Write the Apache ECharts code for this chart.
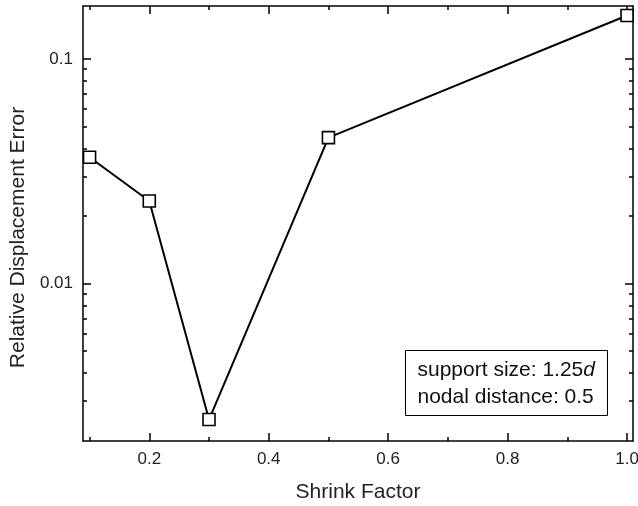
<!DOCTYPE html>
<html>
<head>
<meta charset="utf-8">
<script src="https://cdn.jsdelivr.net/npm/echarts@6/dist/echarts.min.js"></script>
<style>html,body{margin:0;padding:0;background:#fff}#c{width:638px;height:506px}</style>
</head>
<body>
<div id="c"></div>
<script>
const shrinkFactor = [0.1, 0.2, 0.3, 0.5, 1.0];
const relError = [0.0365, 0.0233, 0.00248, 0.0446, 0.156];
const xMajorTicks = [0.2, 0.4, 0.6, 0.8, 1.0];
const xMinorTicks = [0.1, 0.3, 0.5, 0.7, 0.9];
const yMajorTicks = [0.01, 0.1];
const yMinorTicks = [0.003, 0.004, 0.005, 0.006, 0.007, 0.008, 0.009,
                     0.02, 0.03, 0.04, 0.05, 0.06, 0.07, 0.08, 0.09];
const xRange = [0.089, 1.01];
const yRange = [0.00199, 0.172];

const FONT = '"Liberation Sans", Arial, sans-serif';
const ink = '#000';

function xAx(pos, ticks, len, show, labels, line) {
  return {
    type: 'value', position: pos, min: xRange[0], max: xRange[1],
    splitLine: {show: false},
    axisLine: {show: line, onZero: false, lineStyle: {color: ink, width: 1.5}},
    axisTick: {show: true, inside: true, length: len, customValues: ticks, lineStyle: {color: ink, width: 1.5}},
    axisLabel: {show: labels, customValues: ticks, margin: 10, fontFamily: FONT, fontSize: 17, color: '#222',
      formatter: v => v.toFixed(1)},
    name: labels ? 'Shrink Factor' : '',
    nameLocation: 'middle', nameGap: 41,
    nameTextStyle: {fontFamily: FONT, fontSize: 21, color: '#222'}
  };
}
function yAx(pos, ticks, len, labels, line) {
  return {
    type: 'log', logBase: 10, position: pos, min: yRange[0], max: yRange[1],
    splitLine: {show: false},
    axisLine: {show: line, onZero: false, lineStyle: {color: ink, width: 1.5}},
    axisTick: {show: true, inside: true, length: len, customValues: ticks, lineStyle: {color: ink, width: 1.5}},
    axisLabel: {show: labels, customValues: ticks, margin: 10, fontFamily: FONT, fontSize: 17, color: '#222',
      formatter: v => (v >= 0.1 ? '0.1' : '0.01')},
    name: labels ? 'Relative Displacement Error' : '',
    nameLocation: 'middle', nameGap: 54, nameRotate: 90,
    nameTextStyle: {fontFamily: FONT, fontSize: 21, color: '#222', padding: [0, 28, 0, 0]}
  };
}

const chart = echarts.init(document.getElementById('c'), null, {renderer: 'canvas'});
chart.setOption({
  animation: false,
  backgroundColor: '#fff',
  grid: {left: 83, right: 5, top: 6, bottom: 65, containLabel: false, outerBoundsMode: 'none'},
  xAxis: [
    xAx('bottom', xMajorTicks, 8, true, true, true),
    xAx('bottom', xMinorTicks, 4, true, false, false),
    xAx('top', xMajorTicks, 8, true, false, true),
    xAx('top', xMinorTicks, 4, true, false, false)
  ],
  yAxis: [
    yAx('left', yMajorTicks, 8, true, true),
    yAx('left', yMinorTicks, 4, false, false),
    yAx('right', yMajorTicks, 8, false, true),
    yAx('right', yMinorTicks, 4, false, false)
  ],
  series: [{
    type: 'line',
    xAxisIndex: 0, yAxisIndex: 0,
    data: shrinkFactor.map((x, i) => [x, relError[i]]),
    symbol: 'rect', symbolSize: 12,
    showAllSymbol: true,
    lineStyle: {color: ink, width: 2},
    itemStyle: {color: '#fff', borderColor: ink, borderWidth: 1.6},
    emphasis: {disabled: true},
    z: 3
  }],
  graphic: [{
    type: 'group', left: 405, top: 350,
    children: [
      {type: 'rect', shape: {x: 0, y: 0, width: 202, height: 65},
       style: {fill: '#fff', stroke: ink, lineWidth: 1}},
      {type: 'text', x: 12, y: 6, style: {
        text: '{n|support size: 1.25}{i|d}\n{n|nodal distance: 0.5}',
        verticalAlign: 'top',
        rich: {
          n: {fontFamily: FONT, fontSize: 21, fill: '#111', lineHeight: 27},
          i: {fontFamily: FONT, fontSize: 21, fontStyle: 'italic', fill: '#111', lineHeight: 27}
        }}}
    ]
  }]
});
</script>
</body>
</html>
